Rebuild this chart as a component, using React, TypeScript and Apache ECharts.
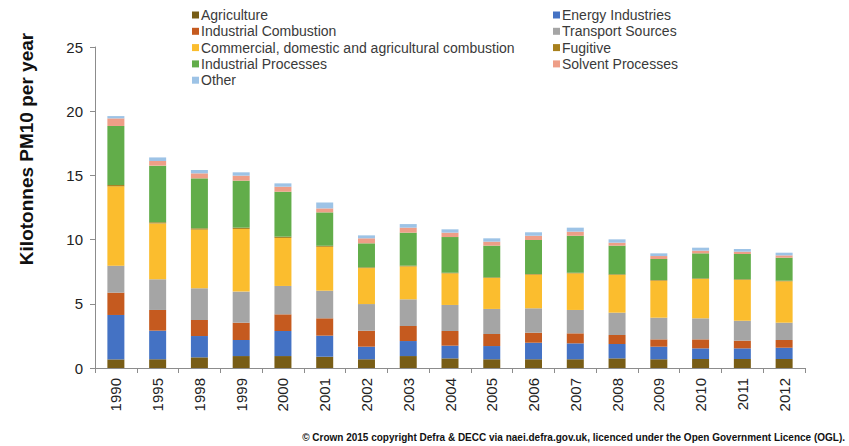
import React, { useEffect, useRef } from "react";
import * as echarts from "echarts";

const years = ["1990","1995","1998","1999","2000","2001","2002","2003","2004","2005","2006","2007","2008","2009","2010","2011","2012"];

const agriculture = [0.67,0.68,0.83,0.93,0.93,0.88,0.68,0.93,0.75,0.68,0.68,0.68,0.75,0.68,0.70,0.70,0.70];
const energyIndustries = [3.46,2.23,1.66,1.25,1.95,1.64,0.98,1.17,0.99,1.03,1.29,1.24,1.12,0.98,0.83,0.83,0.88];
const industrialCombustion = [1.74,1.61,1.25,1.35,1.30,1.35,1.24,1.17,1.14,0.94,0.78,0.78,0.70,0.57,0.70,0.60,0.60];
const transportSources = [2.10,2.39,2.47,2.42,2.21,2.15,2.08,2.08,2.03,1.95,1.90,1.82,1.74,1.69,1.64,1.55,1.35];
const commercialDomestic = [6.18,4.35,4.57,4.88,3.74,3.42,2.80,2.56,2.46,2.41,2.62,2.85,2.94,2.88,3.06,3.18,3.22];
const fugitive = [0.10,0.09,0.10,0.10,0.10,0.08,0.06,0.06,0.05,0.05,0.05,0.05,0.05,0.05,0.05,0.05,0.05];
const industrialProcesses = [4.60,4.41,3.89,3.66,3.50,2.60,1.87,2.57,2.78,2.47,2.65,2.88,2.23,1.64,1.95,1.97,1.79];
const solventProcesses = [0.59,0.36,0.39,0.39,0.39,0.31,0.39,0.39,0.34,0.31,0.33,0.32,0.23,0.23,0.21,0.18,0.18];
const other = [0.18,0.28,0.26,0.26,0.26,0.46,0.23,0.28,0.26,0.26,0.27,0.31,0.26,0.21,0.23,0.21,0.21];

const yTicks = [0, 5, 10, 15, 20, 25];

const seriesDefs = [
  { name: "Agriculture", data: agriculture, color: "#785d16" },
  { name: "Energy Industries", data: energyIndustries, color: "#4472c4" },
  { name: "Industrial Combustion", data: industrialCombustion, color: "#c55a1f" },
  { name: "Transport Sources", data: transportSources, color: "#a5a5a5" },
  { name: "Commercial, domestic and agricultural combustion", data: commercialDomestic, color: "#fbbd2e" },
  { name: "Fugitive", data: fugitive, color: "#a8801c" },
  { name: "Industrial Processes", data: industrialProcesses, color: "#62ad4a" },
  { name: "Solvent Processes", data: solventProcesses, color: "#ee9e87" },
  { name: "Other", data: other, color: "#9dc3e6" },
];

const leftLegend = ["Agriculture", "Industrial Combustion", "Commercial, domestic and agricultural combustion", "Industrial Processes", "Other"];
const rightLegend = ["Energy Industries", "Transport Sources", "Fugitive", "Solvent Processes"];

export default function App() {
  const ref = useRef<HTMLDivElement>(null);
  useEffect(() => {
    if (!ref.current) return;
    const chart = echarts.init(ref.current, null, { renderer: "svg" });
    const legendCommon = {
      orient: "vertical" as const,
      top: 3,
      icon: "rect",
      itemWidth: 7,
      itemHeight: 7,
      itemGap: 2.3,
      selectedMode: false,
      textStyle: { fontFamily: "Arial", fontSize: 14, color: "#3a3a3a", lineHeight: 14, padding: [0, 0, 0, -3] },
    };
    chart.setOption({
      animation: false,
      color: seriesDefs.map((s) => s.color),
      legend: [
        { ...legendCommon, left: 187, data: leftLegend },
        { ...legendCommon, left: 548, data: rightLegend },
      ],
      grid: { left: 95, right: 44, top: 47, bottom: 78, containLabel: false },
      xAxis: {
        type: "category",
        data: years,
        boundaryGap: true,
        axisLine: { lineStyle: { color: "#8c8c8c" } },
        axisTick: { show: true, length: 5, alignWithLabel: false, lineStyle: { color: "#8c8c8c" } },
        axisLabel: { rotate: 90, fontFamily: "Arial", fontSize: 15, color: "#222", margin: 10 },
      },
      yAxis: {
        type: "value",
        min: yTicks[0],
        max: yTicks[yTicks.length - 1],
        interval: 5,
        axisLine: { show: true, lineStyle: { color: "#8c8c8c" } },
        axisTick: { show: true, length: 5, lineStyle: { color: "#8c8c8c" } },
        splitLine: { show: false },
        axisLabel: { fontFamily: "Arial", fontSize: 15, color: "#222", margin: 12 },
      },
      graphic: [
        {
          type: "text",
          x: 26,
          y: 149,
          rotation: Math.PI / 2,
          style: {
            text: "Kilotonnes PM10 per year",
            font: "bold 19px Arial",
            fill: "#111",
            align: "center",
            verticalAlign: "middle",
          },
        },
        {
          type: "text",
          right: 4,
          top: 432,
          style: {
            text: "© Crown 2015 copyright Defra & DECC via naei.defra.gov.uk, licenced under the Open Government Licence (OGL).",
            font: "bold 10px Arial",
            fill: "#111",
          },
        },
      ],
      series: seriesDefs.map((s) => ({
        name: s.name,
        type: "bar",
        stack: "total",
        barWidth: 17,
        data: s.data,
        itemStyle: { color: s.color },
      })),
    });
    return () => chart.dispose();
  }, []);
  return <div ref={ref} style={{ position: "absolute", left: 0, top: 0, width: 849, height: 446 }} />;
}
